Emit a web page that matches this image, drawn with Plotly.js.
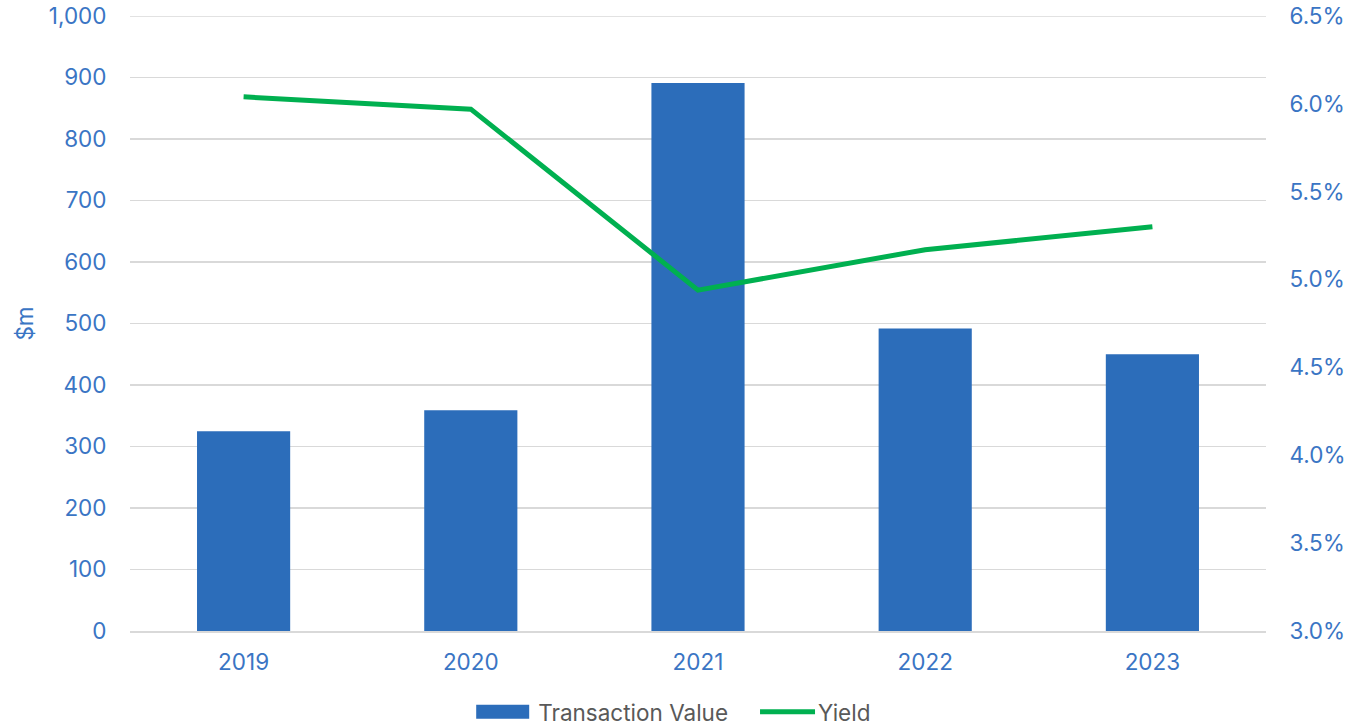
<!DOCTYPE html>
<html>
<head>
<meta charset="utf-8">
<script src="https://cdn.plot.ly/plotly-3.0.1.min.js"></script>
<style>html,body{margin:0;padding:0;background:#fff;}#chart{width:1370px;height:726px;}</style>
</head>
<body>
<div id="chart"></div>
<script>
const years = ['2019', '2020', '2021', '2022', '2023'];
const transactionValue = [325, 359, 891, 492, 450];
const yieldPct = [6.04, 5.97, 4.94, 5.17, 5.30];
const leftTicks = [0, 100, 200, 300, 400, 500, 600, 700, 800, 900, 1000];
const rightTicks = [3.0, 3.5, 4.0, 4.5, 5.0, 5.5, 6.0, 6.5];

const tickColor = '#3A75C4';
const gridColor = '#D9D9D9';
const fontFam = 'Inter, Liberation Sans, Arial, sans-serif';
const fs = 22.5;

const data = [
  {
    type: 'bar', x: years, y: transactionValue, name: 'Transaction Value',
    marker: {color: '#2C6DBA'}, yaxis: 'y'
  },
  {
    type: 'scatter', mode: 'lines', x: years, y: yieldPct, name: 'Yield',
    line: {color: '#00B050', width: 5}, yaxis: 'y2'
  }
];

const layout = {
  width: 1370, height: 726,
  margin: {l: 130, r: 104, t: 16, b: 95, autoexpand: false},
  paper_bgcolor: '#fff', plot_bgcolor: '#fff',
  font: {family: fontFam, size: fs, color: tickColor},
  bargap: 0.59,
  showlegend: true,
  legend: {orientation: 'h', xref: 'container', x: 0.3454, xanchor: 'left',
           yref: 'container', y: 0.019, yanchor: 'middle',
           font: {color: '#595959', size: fs, family: fontFam}, itemwidth: 55, tracegroupgap: 0},
  xaxis: {type: 'category', showgrid: false, zeroline: false,
          showline: true, linecolor: gridColor, linewidth: 1.5,
          ticks: 'outside', ticklen: 10, tickcolor: 'rgba(0,0,0,0)', tickfont: {color: tickColor, size: fs}},
  yaxis: {range: [0, 1000], tickvals: leftTicks, tickformat: ',d',
          showgrid: true, gridcolor: gridColor, gridwidth: 1.5, zeroline: false,
          tickfont: {color: tickColor, size: fs}, ticks: 'outside', ticklen: 18, tickcolor: 'rgba(0,0,0,0)',
          title: {text: '$m', font: {color: tickColor, size: fs}, standoff: 8}},
  yaxis2: {range: [3.0, 6.5], tickvals: rightTicks, ticktext: rightTicks.map(v => v.toFixed(1) + '%'),
           overlaying: 'y', side: 'right', showgrid: false, zeroline: false,
           tickfont: {color: tickColor, size: fs}, ticks: 'outside', ticklen: 18, tickcolor: 'rgba(0,0,0,0)'},
  shapes: [{type: 'line', xref: 'paper', yref: 'y', x0: 0, x1: 1,
            y0: leftTicks[leftTicks.length - 1], y1: leftTicks[leftTicks.length - 1],
            line: {color: gridColor, width: 1.5}, layer: 'below'}]
};

function fitSymbol(el, x0, x1, y0, y1) {
  const b = el.getBBox();
  if (!b.width) return;
  const sx = (x1 - x0) / b.width;
  const sy = (y0 === null) ? 1 : (y1 - y0) / (b.height || 1);
  const ty = (y0 === null) ? 0 : (y0 - b.y * sy);
  el.setAttribute('transform', `translate(${x0 - b.x * sx},${ty}) scale(${sx},${sy})`);
}

Plotly.newPlot('chart', data, layout, {displayModeBar: false, staticPlot: true}).then(gd => {
  gd.querySelectorAll('.legend [clip-path]').forEach(e => e.removeAttribute('clip-path'));
  const traces = gd.querySelectorAll('.legend .traces');
  traces.forEach((t, i) => {
    if (i === 0) {
      t.querySelectorAll('.legendpoints path').forEach(p => fitSymbol(p, 3, 56, -7, 7));
    } else {
      t.querySelectorAll('.legendlines path').forEach(p => fitSymbol(p, 7, 62, null, null));
      const tr = t.getAttribute('transform') || '';
      const m = /translate\(([-\d.]+)[ ,]+([-\d.]+)\)/.exec(tr);
      if (m) t.setAttribute('transform', `translate(${parseFloat(m[1]) + 20},${m[2]})`);
    }
  });
});
</script>
</body>
</html>
